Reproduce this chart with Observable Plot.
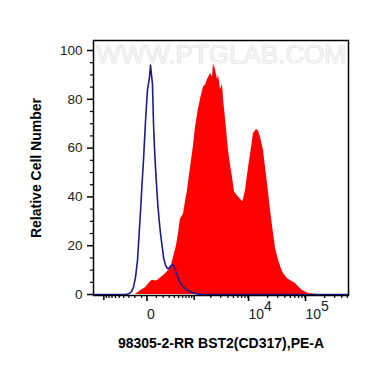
<!DOCTYPE html>
<html><head><meta charset="utf-8">
<script src="https://cdn.jsdelivr.net/npm/d3@7"></script>
<script src="https://cdn.jsdelivr.net/npm/@observablehq/plot@0.6"></script>
<style>
body{margin:0;background:#fff}
svg{font-family:"Liberation Sans",Arial,sans-serif}
</style>
</head><body><div id="chart"></div>
<script>
// Histogram bins in display channels (0–255) and relative cell counts
const sampleChannel = [0,42,47,52,56,59,62,64,66,69,72,75,78,80,83,85,87,90,92,94,97,100,102,105,107,110,112,114,117,119,120,122,124,125,127,129,130,132,135,137,139,141,143,145,147,149,150,152,155,158,160,163,165,167,170,172,174,177,180,182,185,188,190,194,197,202,206,209,215,224,255];
const sampleCount   = [0,0,1.5,2.8,4.8,5.8,5.5,5.7,6.5,7.4,8.5,9.8,12,15.3,20,25,31,33,38,42.6,52,61,68.6,76,80,85,86,88,90.6,89,94.5,92,88,90,84,86,80,72,59,53,48,42,41,40,39,38,39,42.6,52,60,66,67.6,67,64.5,59,52,45.4,34.4,25,19,14,10.5,8.6,6.5,5.7,4.5,2.8,1.6,0.4,0,0];
const controlChannel = [0,32,35,38,40,42,44,45.5,47,48.5,50,52,54,56,57,58,59,60,61,62,64,65.5,67,70,72,74,76,77,79,80,82,85,87,90,93,97,102,107,255];
const controlCount   = [0,0,0.3,1.2,3,7,14,24,34,45,55,71,84,89,94,90,86,70,60,52,38.5,31,25,15.3,12,10.6,11,11.6,12.2,11.9,9.8,6.4,4.6,3,2,1,0.4,0,0];

// Axis ticks (fluorescence values) and labels
const xLabeledValues = [0, 10000, 100000];
const xLabels = ["0", "10^4", "10^5"];
const xUnlabeledMajor = [-1000, 1000];
const xMinorValues = [-900,-800,-700,-600,-500,-400,-300,-200,-100,100,200,300,400,500,600,700,800,900,2000,3000,4000,5000,6000,7000,8000,9000,20000,30000,40000,50000,60000,70000,80000,90000,200000,300000,400000,500000];
const yTicks = [0,20,40,60,80,100];
const yMinor = [5,10,15,25,30,35,45,50,55,65,70,75,85,90,95];
const xTitle = "98305-2-RR BST2(CD317),PE-A";
const yTitle = "Relative Cell Number";
const watermark = "WWW.PTGLAB.COM";

// biexponential-like display transform: value -> channel
const chan = v => 55.5 + 24.75 * Math.asinh(v / 331);
const inDom = c => c >= 0 && c <= 255;

const sample = sampleChannel.map((c, i) => ({c, n: sampleCount[i]}));
const control = controlChannel.map((c, i) => ({c, n: controlCount[i]}));
const labelMap = new Map(xLabeledValues.map((v, i) => [chan(v), xLabels[i]]));

const svg = Plot.plot({
  width: 370, height: 367,
  marginLeft: 93, marginRight: 22, marginTop: 40, marginBottom: 72,
  x: {domain: [0, 255]},
  y: {domain: [-0.4, 104.1]},
  style: {background: "#fff", fontSize: "13px"},
  marks: [
    Plot.text([watermark], {frameAnchor: "top", dy: 14, lineAnchor: "middle", text: d => d,
      fontSize: 26, fill: "#f4f4f4", stroke: "#c4c4c4", strokeWidth: 0.6}),
    Plot.areaY(sample, {x: "c", y: "n", fill: "#ff0000", curve: "linear"}),
    Plot.line(control, {x: "c", y: "n", stroke: "#1c1c8c", strokeWidth: 1.6, curve: "linear"}),
    Plot.frame({stroke: "#000", strokeWidth: 1.5}),
    Plot.axisY(yTicks, {tickSize: 6, tickPadding: 5, strokeWidth: 1.5, fontSize: 13.5, fill: "#222", label: null}),
    Plot.axisY(yMinor, {tickSize: 3, strokeWidth: 1.2, tickFormat: () => "", label: null}),
    Plot.axisX(xLabeledValues.map(chan).filter(inDom), {tickSize: 6, tickPadding: 8, strokeWidth: 1.6,
      tickFormat: d => labelMap.get(d), textAnchor: "start", dx: -2, fontSize: 14, fill: "#222", label: null}),
    Plot.axisX(xUnlabeledMajor.map(chan).filter(inDom), {tickSize: 5, strokeWidth: 1.5, tickFormat: () => "", label: null}),
    Plot.axisX(xMinorValues.map(chan).filter(inDom), {tickSize: 3, strokeWidth: 1.2, tickFormat: () => "", label: null}),
    Plot.text([yTitle], {frameAnchor: "left", dx: -57, rotate: -90, textAnchor: "middle", text: d => d, fontSize: 14, fontWeight: "bold", fill: "#000"}),
    Plot.text([xTitle], {frameAnchor: "bottom", dy: 48, lineAnchor: "middle", text: d => d, fontSize: 14, fontWeight: "bold", fill: "#000"})
  ]
});

// render exponents as raised superscript text
const ns = "http://www.w3.org/2000/svg";
svg.querySelectorAll("text").forEach(t => {
  const s = t.textContent;
  if (s.includes("^")) {
    const [b, e] = s.split("^");
    t.textContent = "";
    const t1 = document.createElementNS(ns, "tspan"); t1.textContent = b;
    const t2 = document.createElementNS(ns, "tspan"); t2.textContent = e; t2.setAttribute("dy", "-0.6em");
    t.append(t1, t2);
  }
});
document.getElementById("chart").append(svg);
</script>
</body></html>
